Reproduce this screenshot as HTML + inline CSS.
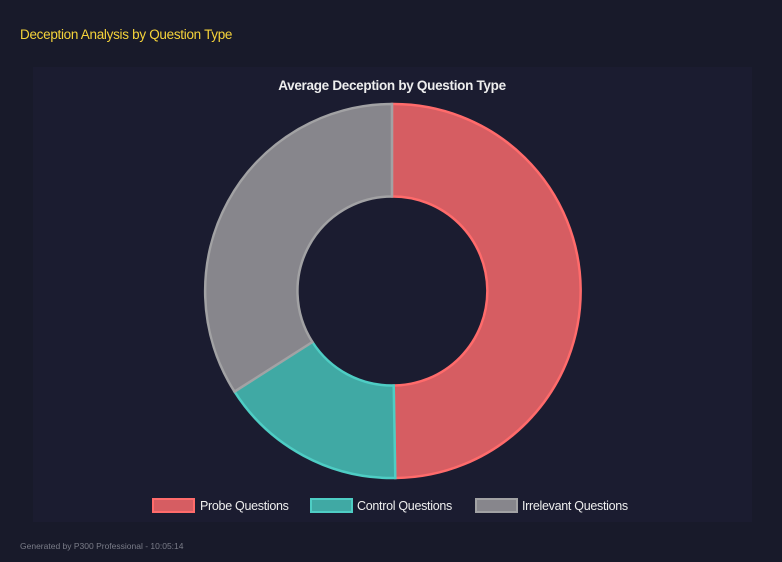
<!DOCTYPE html>
<html><head><meta charset="utf-8"><style>
html,body{margin:0;padding:0;background:#181a2a;width:782px;height:562px;overflow:hidden;font-family:"Liberation Sans",Arial,sans-serif}
.h{position:absolute;left:20px;top:27px;color:#f5d33a;font-size:13.5px;letter-spacing:-0.3px}
.panel{position:absolute;left:33px;top:67px;width:719px;height:455px;background:#1b1c30}
.f{position:absolute;left:20px;top:541px;color:#7a7c88;font-size:8.5px}
</style></head><body>
<div class="h">Deception Analysis by Question Type</div>
<div class="panel"></div>
<svg width="782" height="562" style="position:absolute;left:0;top:0">
<text x="392" y="90" text-anchor="middle" fill="#eeeeee" font-size="13.5" font-weight="bold" letter-spacing="-0.3" font-family="Liberation Sans, Arial, sans-serif">Average Deception by Question Type</text>
<g stroke-width="2.5">
<path d="M392,104 A187,187 0 1 1 395.3,478 L393.7,385.5 A94.5,94.5 0 1 0 392,196.5 Z" fill="#d65d62" stroke="#ff6b6b"/>
<path d="M395.3,478 A187,187 0 0 1 234.5,391.6 L312.4,342 A94.5,94.5 0 0 0 393.7,385.5 Z" fill="#40a9a4" stroke="#4ecdc4"/>
<path d="M234.5,391.6 A187,187 0 0 1 392,104 L392,196.5 A94.5,94.5 0 0 0 312.4,342 Z" fill="#87868c" stroke="#a2a2a4"/>
</g>
<g font-size="12.5" fill="#eeeeee" letter-spacing="-0.3" font-family="Liberation Sans, Arial, sans-serif">
<rect x="153" y="499" width="41" height="13" fill="#d65d62" stroke="#ff6b6b" stroke-width="2"/>
<text x="200" y="510">Probe Questions</text>
<rect x="311" y="499" width="41" height="13" fill="#40a9a4" stroke="#4ecdc4" stroke-width="2"/>
<text x="357" y="510">Control Questions</text>
<rect x="476" y="499" width="41" height="13" fill="#87868c" stroke="#a2a2a4" stroke-width="2"/>
<text x="522" y="510">Irrelevant Questions</text>
</g>
</svg>
<div class="f">Generated by P300 Professional - 10:05:14</div>
</body></html>
